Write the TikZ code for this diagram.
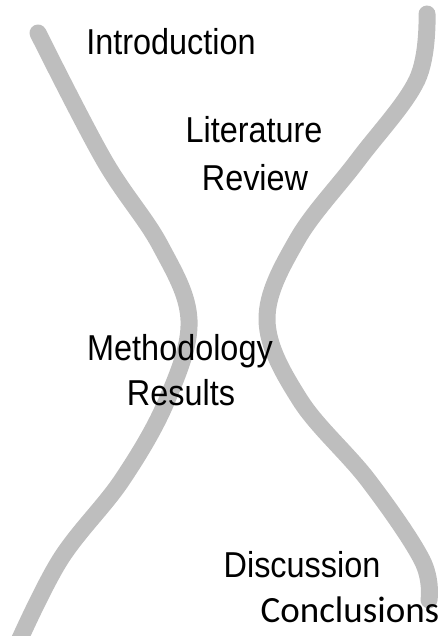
\documentclass[tikz,border=0pt]{standalone}
\usepackage{fontspec}
\newfontfamily\stagefont[FakeStretch=0.9]{Liberation Sans}
\newfontfamily\closefont{Carlito}
\definecolor{bandgray}{RGB}{190,190,190}

\begin{document}
\begin{tikzpicture}[x=1pt,y=-1pt,
    band/.style={line width=17pt,bandgray,line cap=round},
    stage/.style={anchor=base,inner sep=0pt,font=\stagefont\fontsize{36}{36}\selectfont}]
  \useasboundingbox (0,0) rectangle (443,636);
  % left wall of the hourglass
  \draw[band] plot[smooth,tension=0.6] coordinates {(38,33) (104,160) (160,245) (189,320) (167,400) (122,480) (60,560) (14,652)};
  % right wall
  \draw[band] plot[smooth,tension=0.6] coordinates {(427,14) (417,80) (358,160) (297,240) (267,320) (300,400) (368,480) (422,560) (429,600)};
  % stages, top to bottom
  \node[stage] (intro) at (171,55) {Introduction};
  \node[stage] (lit) at (254,143) {Literature};
  \node[stage] (rev) at (255,190) {Review};
  \node[stage] (meth) at (180,360) {Methodology};
  \node[stage] (res) at (181,405) {Results};
  \node[stage] (disc) at (302,577) {Discussion};
  \node[anchor=base,inner sep=0pt,font=\closefont\fontsize{37}{37}\selectfont] (concl) at (350,622) {Conclusions};
\end{tikzpicture}
\end{document}
